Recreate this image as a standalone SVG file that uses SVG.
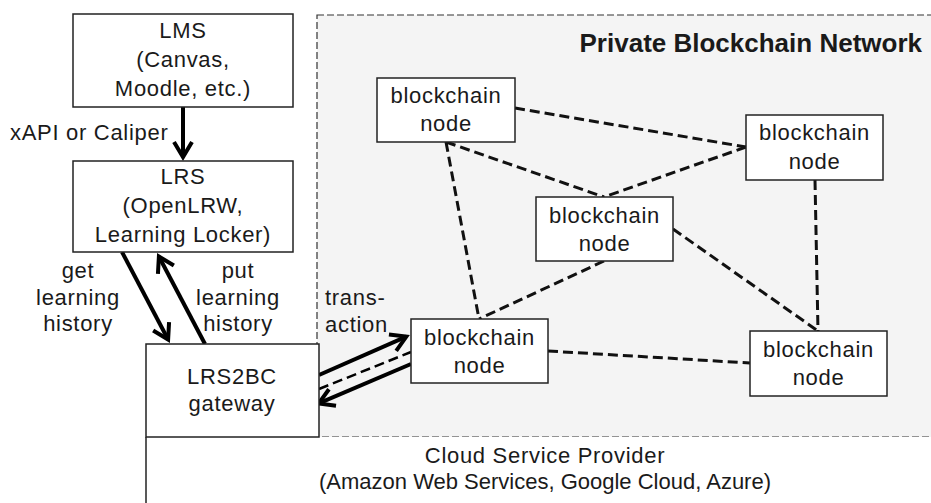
<svg xmlns="http://www.w3.org/2000/svg" width="931" height="503" viewBox="0 0 931 503">
  <style>
    text { font-family: "Liberation Sans", Arial, sans-serif; font-size: 22px; letter-spacing: 0.7px; fill: #1a1a1a; }
    .c { text-anchor: middle; }
    .tight { letter-spacing: 0; }
    .title { font-weight: bold; font-size: 26px; letter-spacing: 0; text-anchor: end; }
    .box { fill: #ffffff; stroke: #222222; stroke-width: 1.5; }
    .link { fill: none; stroke: #111111; stroke-width: 3; stroke-dasharray: 10 5; }
    .flow { fill: none; stroke: #000000; stroke-width: 4; }
  </style>
  <defs>
    <marker id="head" markerUnits="userSpaceOnUse" viewBox="-20 -14 28 28" refX="0" refY="0" markerWidth="28" markerHeight="28" orient="auto">
      <path d="M-15,-9 L0,0 L-15,9" fill="none" stroke="#000" stroke-width="4" stroke-linejoin="miter"/>
    </marker>
  </defs>

  <!-- private network area -->
  <g id="network">
    <rect x="317" y="15" width="630" height="422" fill="#f4f4f4" stroke="#333" stroke-width="1.2" stroke-dasharray="7 3"/>
    <text class="title" x="922" y="52">Private Blockchain Network</text>
  </g>

  <!-- cloud provider base -->
  <g id="cloud">
    <rect x="146" y="437" width="800" height="80" fill="#ffffff"/>
    <line x1="146" y1="437" x2="146" y2="503" stroke="#222" stroke-width="1.5"/>
    <text class="c" x="545" y="463">Cloud Service Provider</text>
    <text class="c tight" x="545" y="489">(Amazon Web Services, Google Cloud, Azure)</text>
  </g>

  <!-- connectors -->
  <g id="connectors">
    <line class="link" x1="515" y1="108" x2="746" y2="147"/>
    <line class="link" x1="446" y1="142" x2="604" y2="197"/>
    <line class="link" x1="446" y1="142" x2="479" y2="319"/>
    <line class="link" x1="746" y1="147" x2="604" y2="197"/>
    <line class="link" x1="815" y1="180" x2="818" y2="331"/>
    <line class="link" x1="673" y1="229" x2="818" y2="331"/>
    <line class="link" x1="604" y1="261" x2="479" y2="319"/>
    <line class="link" x1="548" y1="351" x2="750" y2="363"/>

    <line class="flow" x1="183" y1="107" x2="183" y2="157" marker-end="url(#head)"/>
    <line class="flow" x1="122" y1="252" x2="168.1" y2="339.5" marker-end="url(#head)"/>
    <line class="flow" x1="205" y1="344" x2="158.9" y2="256.5" marker-end="url(#head)"/>
    <line class="flow" x1="319" y1="375" x2="406.3" y2="336.6" marker-end="url(#head)"/>
    <line x1="319" y1="389" x2="411" y2="352" fill="none" stroke="#000" stroke-width="2.5" stroke-dasharray="10 5"/>
    <line class="flow" x1="411" y1="364" x2="318.7" y2="403.4" marker-end="url(#head)"/>

    <text x="10" y="140">xAPI or Caliper</text>
    <text class="c" x="78" y="278">get</text>
    <text class="c" x="78" y="305">learning</text>
    <text class="c" x="78" y="331">history</text>
    <text class="c" x="238" y="278">put</text>
    <text class="c" x="238" y="305">learning</text>
    <text class="c" x="238" y="331">history</text>
    <text x="325" y="305">trans-</text>
    <text x="325" y="332">action</text>
  </g>

  <g id="lms">
    <rect class="box" x="73" y="14" width="220" height="93"/>
    <text class="c" x="183" y="38">LMS</text>
    <text class="c" x="183" y="67">(Canvas,</text>
    <text class="c" x="183" y="96">Moodle, etc.)</text>
  </g>

  <g id="lrs">
    <rect class="box" x="73" y="161" width="220" height="91"/>
    <text class="c" x="183" y="184">LRS</text>
    <text class="c" x="183" y="213">(OpenLRW,</text>
    <text class="c" x="183" y="242">Learning Locker)</text>
  </g>

  <g id="gateway">
    <rect class="box" x="146" y="344" width="173" height="93"/>
    <text class="c" x="232" y="384">LRS2BC</text>
    <text class="c" x="232" y="411">gateway</text>
  </g>

  <g id="node-a">
    <rect class="box" x="377" y="78" width="138" height="64"/>
    <text class="c" x="446" y="103">blockchain</text>
    <text class="c" x="446" y="131">node</text>
  </g>

  <g id="node-b">
    <rect class="box" x="746" y="115" width="137" height="65"/>
    <text class="c" x="814.5" y="140">blockchain</text>
    <text class="c" x="814.5" y="169">node</text>
  </g>

  <g id="node-c">
    <rect class="box" x="536" y="197" width="137" height="64"/>
    <text class="c" x="604.5" y="223">blockchain</text>
    <text class="c" x="604.5" y="251">node</text>
  </g>

  <g id="node-d">
    <rect class="box" x="411" y="319" width="137" height="64"/>
    <text class="c" x="479.5" y="345">blockchain</text>
    <text class="c" x="479.5" y="373">node</text>
  </g>

  <g id="node-e">
    <rect class="box" x="750" y="331" width="137" height="65"/>
    <text class="c" x="818.5" y="357">blockchain</text>
    <text class="c" x="818.5" y="385">node</text>
  </g>
</svg>
